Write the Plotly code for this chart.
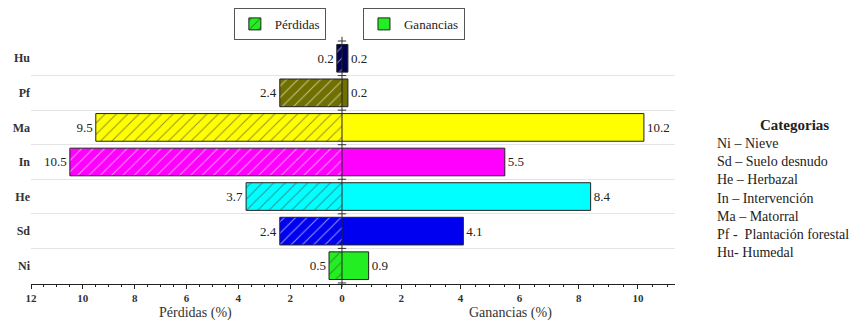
import plotly.graph_objects as go

# Land-cover categories, bottom to top
categories = ["Ni", "Sd", "He", "In", "Ma", "Pf", "Hu"]
losses = [0.5, 2.4, 3.7, 10.5, 9.5, 2.4, 0.2]   # Pérdidas (%)
gains = [0.9, 4.1, 8.4, 5.5, 10.2, 0.2, 0.2]    # Ganancias (%)
colors = ["#22ee22", "#0000f0", "#00ffff", "#ff00ff", "#ffff00", "#707000", "#000055"]

legend_lines = [
    "Ni – Nieve",
    "Sd – Suelo desnudo",
    "He – Herbazal",
    "In – Intervención",
    "Ma – Matorral",
    "Pf -  Plantación forestal",
    "Hu- Humedal",
]

ypos = list(range(len(categories)))
serif = "Times New Roman, Liberation Serif, Times, serif"
split = 0.4829  # share of the plot width used by the losses panel

fig = go.Figure()

fig.add_trace(go.Bar(
    name="Pérdidas", orientation="h", x=losses, y=ypos,
    xaxis="x", yaxis="y", width=0.8,
    marker=dict(color=colors, line=dict(color="#222222", width=1),
                pattern=dict(shape="/", fillmode="overlay", fgcolor="#000000",
                             fgopacity=0.6, size=8, solidity=0.12)),
    text=[f"{v:.1f}" for v in losses], textposition="outside",
    textfont=dict(family=serif, size=13, color="#222222"),
    cliponaxis=False, legend="legend",
))

fig.add_trace(go.Bar(
    name="Ganancias", orientation="h", x=gains, y=ypos,
    xaxis="x2", yaxis="y", width=0.8,
    marker=dict(color=colors, line=dict(color="#222222", width=1)),
    text=[f"{v:.1f}" for v in gains], textposition="outside",
    textfont=dict(family=serif, size=13, color="#222222"),
    cliponaxis=False, legend="legend2",
))

# small cross ticks on the zero line at the category boundaries
bounds = [i - 0.5 for i in ypos] + [ypos[-1] + 0.5]
fig.add_trace(go.Scatter(
    x=[0] * len(bounds), y=bounds, xaxis="x2", yaxis="y", mode="markers",
    marker=dict(symbol="cross-thin-open", size=6, color="#333333",
                line=dict(color="#333333", width=1)),
    cliponaxis=False, showlegend=False, hoverinfo="skip",
))

axis_common = dict(
    showline=True, linecolor="#222222", linewidth=1, showgrid=False, zeroline=False,
    ticks="outside", ticklen=4, tickwidth=1, tickcolor="#222222",
    minor=dict(dtick=0.5, ticks="outside", ticklen=2, tickcolor="#222222"),
    tickfont=dict(family=serif, size=11, color="#333333", weight="bold"),
)

legend_style = dict(
    xanchor="left", yanchor="top", bordercolor="#555555", borderwidth=1,
    bgcolor="white", font=dict(family=serif, size=13, color="#222222"),
    itemwidth=30, tracegroupgap=0,
)

fig.update_layout(
    width=861, height=324,
    margin=dict(l=31, r=186, t=41, b=40, autoexpand=False),
    paper_bgcolor="white", plot_bgcolor="white",
    xaxis=dict(domain=[0, split], range=[12, 0], dtick=2, tick0=0,
               anchor="y", **axis_common),
    xaxis2=dict(domain=[split, 1], range=[0, 11.25], tickvals=[0, 2, 4, 6, 8, 10],
                ticktext=["", "2", "4", "6", "8", "10"], anchor="y", **axis_common),
    yaxis=dict(range=[-0.53, 6.5], tickvals=ypos, ticktext=categories,
               showgrid=False, zeroline=False, showline=False, ticks="",
               tickfont=dict(family=serif, size=12, color="#333333", weight="bold"),
               minor=dict(tickvals=[i + 0.5 for i in ypos[:-1]], showgrid=True,
                          gridcolor="#e4e4e4", gridwidth=1)),
    legend=dict(x=0.315, y=1.136, **legend_style),
    legend2=dict(x=0.5155, y=1.136, **legend_style),
    showlegend=True,
)

# axis titles under each panel
for label, xc in [("Pérdidas (%)", 0.2562), ("Ganancias (%)", 0.7438)]:
    fig.add_annotation(
        text=label, xref="paper", yref="paper", x=xc, y=-0.119,
        xanchor="center", yanchor="middle", showarrow=False,
        font=dict(family=serif, size=14, color="#333333"),
    )

fig.add_annotation(
    text="<b>Categorias</b>", xref="paper", yref="paper", x=1.185, y=0.654,
    xanchor="center", yanchor="middle", showarrow=False,
    font=dict(family=serif, size=15, color="#222222"),
)
fig.add_annotation(
    text="<br>".join(legend_lines), xref="paper", yref="paper", x=1.062, y=0.617,
    xanchor="left", yanchor="top", align="left", showarrow=False,
    font=dict(family=serif, size=14, color="#222222"),
)

fig.write_html("out.html")
